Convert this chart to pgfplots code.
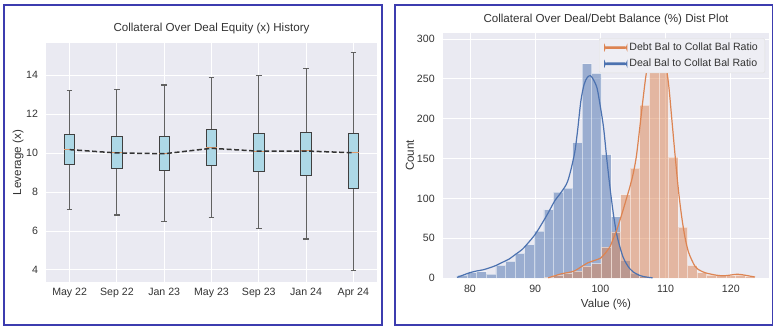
\documentclass[border=0pt]{standalone}
\usepackage{pgfplots}
\pgfplotsset{compat=1.18}
\usepackage{pgfplotstable}
\usepgfplotslibrary{statistics}
\usepackage{fontspec}
\setmainfont{Liberation Sans}

\definecolor{bgc}{HTML}{EAEAF2}
\definecolor{legbg}{HTML}{EEEEF4}
\definecolor{sbblue}{HTML}{4C72B0}
\definecolor{sborange}{HTML}{DD8452}
\definecolor{boxblue}{HTML}{ADD8E6}
\definecolor{medorange}{HTML}{E09A6A}
\definecolor{framec}{RGB}{60,60,175}
\definecolor{txt}{HTML}{333333}

\pgfplotstableread{
pos lw lq med uq uw
0 7.12 9.44 10.18 10.97 13.24
1 6.82 9.22 10.01 10.85 13.28
2 6.50 9.10 9.97 10.88 13.50
3 6.69 9.38 10.27 11.20 13.91
4 6.12 9.07 10.11 11.02 13.98
5 5.59 8.84 10.13 11.07 14.34
6 3.95 8.20 10.01 11.02 15.15
}\boxdata

\pgfplotstableread{
edge count
78.10 4
79.57 7
81.04 8
82.51 5
83.98 16
85.45 21
86.92 31
88.39 42
89.86 59
91.33 86
92.80 108
94.27 113
95.74 170
97.21 269
98.68 257
100.15 155
101.62 77
103.09 22
104.56 6
106.03 2
107.50 0
}\dealhist

\pgfplotstableread{
edge count
91.33 1
92.80 4
94.27 6
95.74 9
97.21 15
98.68 18
100.15 39
101.62 58
103.09 105
104.56 138
106.03 217
107.50 292
108.97 278
110.44 152
111.91 64
113.38 16
114.85 7
116.32 4
117.79 3
119.26 3
120.73 4
122.20 2
123.67 0
}\debthist

\pgfplotstableread{
x y
78.0 1
79.0 4
80.0 7
81.0 9
82.0 10.5
83.0 13
84.0 16
85.0 20
86.0 24
87.0 30
88.0 36
89.0 45
90.0 55
91.0 68
92.0 82
93.0 97
94.0 108
95.0 122
96.0 155
96.5 185
97.0 222
97.5 243
98.0 252
98.5 254
99.0 248
99.5 238
100.0 215
100.5 188
101.0 148
101.5 112
102.0 80
102.5 55
103.0 39
103.5 26
104.0 18
104.5 12
105.0 8
106.0 3.5
107.0 1.5
108.0 0.5
}\dealkde

\pgfplotstableread{
x y
92.0 0.5
93.0 3
94.0 5.5
95.0 7
96.0 9
97.0 14
98.0 19
99.0 22
100.0 25
100.5 29
101.0 34
101.5 40
102.0 50
102.5 60
103.0 73
103.5 86
104.0 100
104.5 114
105.0 130
105.5 152
106.0 186
106.5 222
107.0 255
107.5 276
108.0 288
108.5 292
109.0 290
109.5 287
110.0 270
110.5 240
111.0 195
111.5 150
112.0 108
112.5 75
113.0 50
113.5 33
114.0 23
114.5 15
115.0 11
116.0 7
117.0 5
118.0 3.5
119.0 3
120.0 4
121.0 5
122.0 4
123.0 2.5
123.7 1.5
}\debtkde

\pgfplotsset{
  sbstyle/.style={
    scale only axis,
    axis background/.style={fill=bgc},
    axis line style={draw=none},
    major tick length=0pt,
    grid=major,
    grid style={white, line width=0.9pt},
    tick label style={font=\fontsize{10.6}{12}\selectfont, text=txt},
    /pgf/number format/assume math mode=true,
    xticklabel style={anchor=base, yshift=-14pt},
    yticklabel style={anchor=east, xshift=-4.5pt},
    label style={font=\fontsize{11.6}{13}\selectfont, text=txt},
    title style={font=\fontsize{11.6}{13}\selectfont, text=txt, anchor=base},
  }
}

\begin{document}
\begin{tikzpicture}
\path[use as bounding box] (0pt,0pt) rectangle (780pt,328pt);
\draw[framec, line width=1.4pt] (4pt,3pt) rectangle (382pt,323pt);
\draw[framec, line width=1.4pt] (395pt,3pt) rectangle (772.3pt,323pt);

% Left: boxplots
\begin{axis}[sbstyle,
  at={(46pt,46pt)}, anchor=south west,
  width=331pt, height=239pt,
  xmin=-0.5, xmax=6.5, ymin=3.38, ymax=15.66,
  xtick={0,...,6},
  xticklabels={May 22,Sep 22,Jan 23,May 23,Sep 23,Jan 24,Apr 24},
  ytick={4,6,...,14},
  ylabel={Leverage (x)},
  ylabel style={at={(axis description cs:-0.0755,0.5)}, anchor=base},
  title={Collateral Over Deal Equity (x) History},
  title style={at={(axis description cs:0.5,1)}, yshift=5.4pt},
  boxplot/draw direction=y,
  boxplot/every whisker/.style={draw=black!62, line width=1.1pt},
  boxplot/every median/.style={draw=medorange, line width=1pt},
]
\pgfplotsinvokeforeach{0,...,6}{
  \pgfplotstablegetelem{#1}{lw}\of\boxdata \let\bLW\pgfplotsretval
  \pgfplotstablegetelem{#1}{lq}\of\boxdata \let\bLQ\pgfplotsretval
  \pgfplotstablegetelem{#1}{med}\of\boxdata \let\bMED\pgfplotsretval
  \pgfplotstablegetelem{#1}{uq}\of\boxdata \let\bUQ\pgfplotsretval
  \pgfplotstablegetelem{#1}{uw}\of\boxdata \let\bUW\pgfplotsretval
  \edef\doboxplot{\noexpand\addplot[draw=black!75, fill=boxblue, line width=0.9pt,
    boxplot prepared={draw direction=y, lower whisker=\bLW, lower quartile=\bLQ, median=\bMED,
      upper quartile=\bUQ, upper whisker=\bUW,
      draw position=#1, box extend=0.22, whisker extend=0.12}]
    coordinates {};}
  \doboxplot
}
\addplot[black!80, line width=1.5pt, dash pattern=on 5pt off 2.5pt]
  coordinates {(0,10.18) (1,10.01) (2,9.97) (3,10.25) (4,10.10) (5,10.11) (6,10.02)};
\end{axis}

% Right: histograms
\begin{axis}[sbstyle,
  at={(442.7pt,49.8pt)}, anchor=south west,
  width=326.6pt, height=245.5pt,
  xmin=75.82, xmax=125.9, ymin=0, ymax=308,
  xtick={80,90,...,120},
  ytick={0,50,...,300},
  xlabel={Value (\%)},
  xlabel style={at={(axis description cs:0.5,0)}, anchor=base, yshift=-29.3pt},
  ylabel={Count},
  ylabel style={at={(axis description cs:-0.0879,0.5)}, anchor=base},
  title={Collateral Over Deal/Debt Balance (\%) Dist Plot},
  title style={at={(axis description cs:0.5,1)}, yshift=4.4pt},
  legend cell align=left,
  reverse legend,
  legend style={at={(rel axis cs:0.987,0.977)}, anchor=north east,
    fill=legbg, draw=black!12,
    rounded corners=2pt, font=\fontsize{10.6}{12}\selectfont,
    inner xsep=5pt, inner ysep=2.5pt, row sep=3pt},
]
\addplot[ybar interval, fill=sbblue, draw=white, opacity=0.5, line width=0.7pt, forget plot]
  table[x=edge, y=count] {\dealhist};
\addplot[ybar interval, fill=sborange, draw=white, opacity=0.5, line width=0.7pt, forget plot]
  table[x=edge, y=count] {\debthist};
\addplot[draw=sbblue, line width=1.2pt, smooth,
  legend image code/.code={\fill[sbblue] (0pt,-0.75pt) rectangle (22pt,0.75pt);}]
  table[x=x, y=y] {\dealkde};
\addlegendentry{\textcolor{txt}{Deal Bal to Collat Bal Ratio}}
\addplot[draw=sborange, line width=1.2pt, smooth,
  legend image code/.code={\fill[sborange] (0pt,-0.75pt) rectangle (22pt,0.75pt);}]
  table[x=x, y=y] {\debtkde};
\addlegendentry{\textcolor{txt}{Debt Bal to Collat Bal Ratio}}
\end{axis}
\end{tikzpicture}
\end{document}
